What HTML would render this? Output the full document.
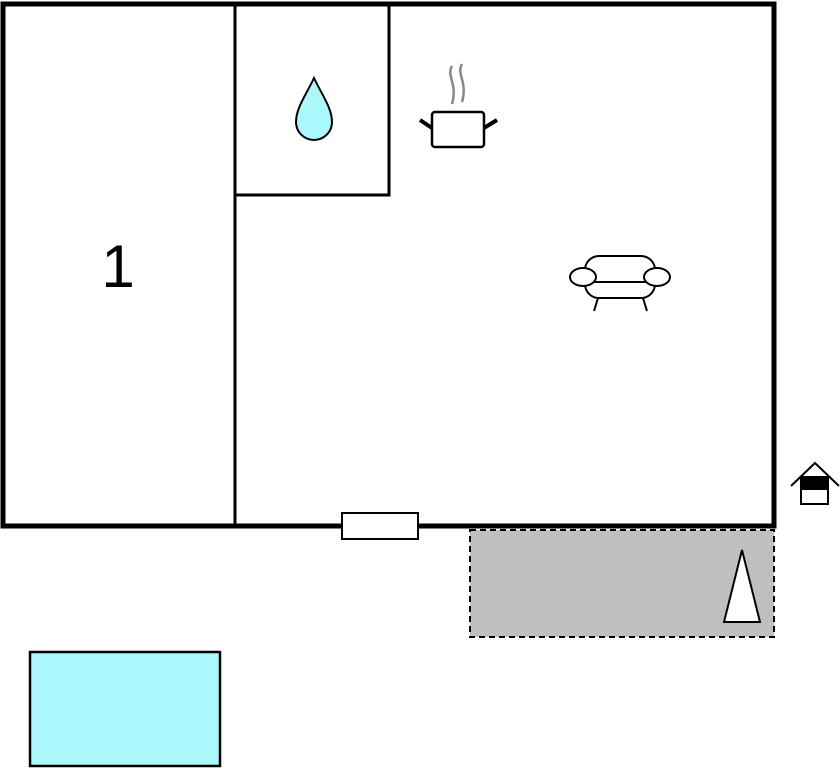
<!DOCTYPE html>
<html><head><meta charset="utf-8"><style>html,body{margin:0;padding:0;background:#fff}</style></head>
<body>
<svg width="840" height="768" viewBox="0 0 840 768" xmlns="http://www.w3.org/2000/svg">
<rect x="470" y="530" width="304" height="107" fill="#bfbfbf" stroke="#000" stroke-width="2" stroke-dasharray="6,4"/>
<rect x="3" y="4" width="771" height="522" fill="none" stroke="#000" stroke-width="5"/>
<line x1="235" y1="4" x2="235" y2="526" stroke="#000" stroke-width="3"/>
<polyline points="235,195 389,195 389,4" fill="none" stroke="#000" stroke-width="3"/>
<rect x="342" y="513" width="76" height="26" fill="#fff" stroke="#000" stroke-width="2"/>
<text x="118" y="287" font-family="Liberation Sans, sans-serif" font-size="60" text-anchor="middle">1</text>
<path d="M314,78 C322,95 332,108 332,122 A18,18 0 0 1 296,122 C296,108 306,95 314,78 Z" fill="#aaf8fb" stroke="#000" stroke-width="2"/>
<path d="M452,66 C446,76 458,84 452,104 M462,64 C456,74 468,82 462,102" fill="none" stroke="#888" stroke-width="2.5"/>
<rect x="432" y="112" width="52" height="35" rx="3" fill="#fff" stroke="#000" stroke-width="2.5"/>
<line x1="420" y1="120" x2="432" y2="128" stroke="#000" stroke-width="4"/>
<line x1="484" y1="128" x2="497" y2="120" stroke="#000" stroke-width="4"/>
<g fill="#fff" stroke="#000" stroke-width="2">
<rect x="585" y="256" width="70" height="42" rx="14"/>
<line x1="594" y1="282" x2="646" y2="282"/>
<ellipse cx="583" cy="277" rx="13" ry="9"/>
<ellipse cx="657" cy="277" rx="13" ry="9"/>
<line x1="598" y1="298" x2="594" y2="311"/>
<line x1="643" y1="298" x2="647" y2="311"/>
</g>
<polygon points="742,550 760,622 724,622" fill="#fff" stroke="#000" stroke-width="2"/>
<rect x="30" y="652" width="190" height="114" fill="#aaf8fb" stroke="#000" stroke-width="2.5"/>
<polyline points="791,486 815,463 839,486" fill="none" stroke="#000" stroke-width="2"/>
<rect x="801" y="477" width="27" height="27" fill="#fff" stroke="#000" stroke-width="2"/>
<rect x="801" y="477" width="27" height="13" fill="#000"/>
</svg>
</body></html>
